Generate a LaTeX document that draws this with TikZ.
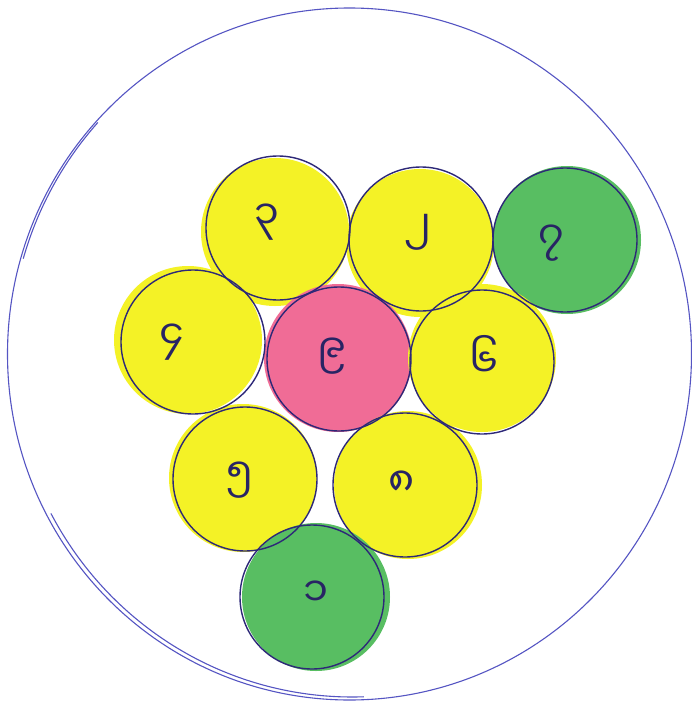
\documentclass[tikz,border=0pt]{standalone}
\usetikzlibrary{shapes.geometric}
\usepackage{fontspec}
\newfontfamily\mya[Script=Myanmar]{Noto Sans Myanmar UI}
\definecolor{ballyellow}{RGB}{244,242,38}
\definecolor{ballgreen}{RGB}{88,190,98}
\definecolor{ballpink}{RGB}{240,108,150}
\definecolor{inkline}{RGB}{45,40,120}
\definecolor{outerline}{RGB}{85,85,195}
\definecolor{digitink}{RGB}{40,36,100}
\begin{document}
\begin{tikzpicture}[x=1pt,y=-1pt,
  ballfill/.style={circle,inner sep=0pt,minimum size=148pt,draw=none},
  ball/.style={circle,inner sep=0pt,minimum size=144pt,draw=inkline,line width=1.4pt},
  digit/.style={text=digitink,font=\mya\fontsize{40}{48}\selectfont,inner sep=0pt},
  rim/.style={draw=outerline,line width=1.1pt}]
\useasboundingbox (0,0) rectangle (691,704);
\fill[white] (0,0) rectangle (691,704);
% outer circle
\node[rim,ellipse,inner sep=0pt,minimum width=684pt,minimum height=692pt] (rack) at (349.5,354) {};
\draw[rim] plot[domain=88:152,samples=50,smooth] ({352+341*cos(\x)},{351+346*sin(\x)});
\draw[rim] plot[domain=196:222,samples=30,smooth] ({352+342*cos(\x)},{354+346*sin(\x)});
% colour fills
\node[ballfill,fill=ballyellow] (fa) at (275,232) {};
\node[ballfill,fill=ballyellow] (fb) at (420,243) {};
\node[ballfill,fill=ballgreen] (fc) at (567,240) {};
\node[ballfill,fill=ballyellow] (fd) at (188,340) {};
\node[ballfill,fill=ballpink] (fe) at (338,358) {};
\node[ballfill,fill=ballyellow] (ff) at (482,358) {};
\node[ballfill,fill=ballyellow] (fg) at (243,478) {};
\node[ballfill,fill=ballyellow] (fh) at (408,485) {};
\node[ballfill,fill=ballgreen] (fi) at (316,597) {};
% outlines
\node[ball] (a) at (278,228) {};
\node[ball] (b) at (421,239) {};
\node[ball] (c) at (565,240) {};
\node[ball] (d) at (193,342) {};
\node[ball] (e) at (339,359) {};
\node[ball] (f) at (482,362) {};
\node[ball] (g) at (245,479) {};
\node[ball] (h) at (405,485) {};
\node[ball] (i) at (312,597) {};
% digits
\node[digit] (ta) at (267,222) {၃};
\node[digit] (tb) at (418,232) {၂};
\node[digit] (tc) at (551,243) {၇};
\node[digit] (td) at (172,342) {၄};
\node[digit] (te) at (332,356) {၉};
\node[digit] (tf) at (484,356) {၆};
\node[digit] (tg) at (240,480) {၅};
\node[digit] (th) at (402,484) {၈};
\node[digit] (ti) at (316,594) {၁};
\end{tikzpicture}
\end{document}
